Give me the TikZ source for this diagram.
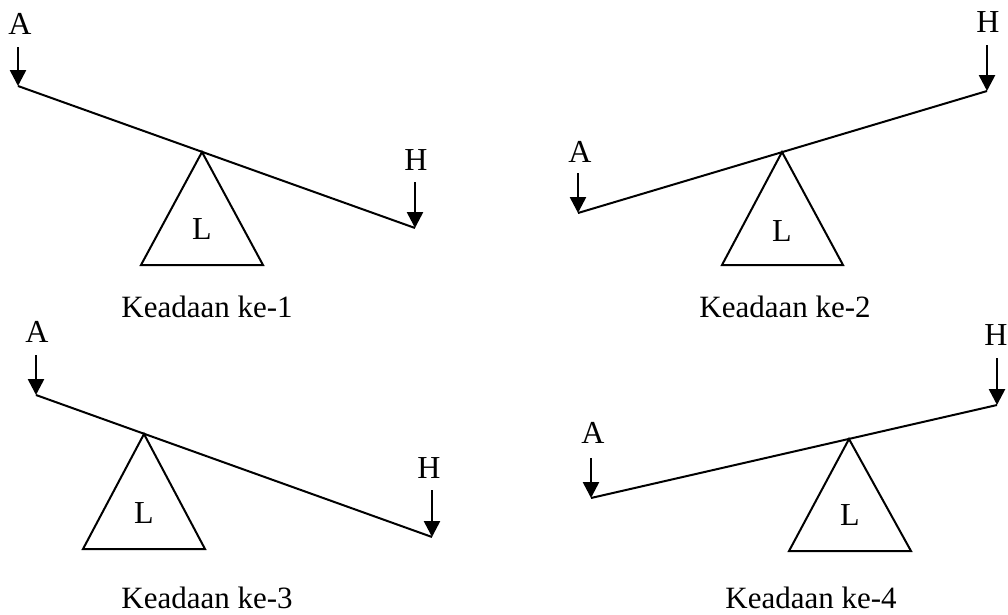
\documentclass[tikz,border=0pt]{standalone}
\usepackage{fontspec}
\setmainfont{Liberation Serif}
\usetikzlibrary{arrows.meta}
\begin{document}
\begin{tikzpicture}[x=1pt,y=-1pt,
  beam/.style={line width=2pt},
  stand/.style={line width=2pt,line join=miter},
  force/.style={line width=2.6pt,-{Triangle[width=16pt,length=16pt]}},
  lbl/.style={font=\fontsize{32}{36}\selectfont,inner sep=0pt},
  captext/.style={font=\fontsize{31}{36}\selectfont,inner sep=0pt}]
\useasboundingbox (0,0) rectangle (1008,614);
% ---------- Panel 1
\coordinate (b1l) at (18,86);
\coordinate (b1r) at (415,228);
\coordinate (t1a) at (202,152);
\coordinate (t1l) at (141,265);
\coordinate (t1r) at (263,265);
\coordinate (f1a) at (18,47);
\coordinate (f1h) at (415,182);
\draw[beam] (b1l) -- (b1r);
\draw[stand] (t1a) -- (t1l) -- (t1r) -- cycle;
\draw[force] (f1a) -- (b1l);
\draw[force] (f1h) -- (b1r);
\node[lbl] (a1) at (20,24) {A};
\node[lbl] (h1) at (416,160) {H};
\node[lbl] (l1) at (202,229) {L};
\node[captext] (k1) at (207,307) {Keadaan ke-1};
% ---------- Panel 2
\coordinate (b2l) at (578,213);
\coordinate (b2r) at (987,91);
\coordinate (t2a) at (782,152);
\coordinate (t2l) at (722,265);
\coordinate (t2r) at (843,265);
\coordinate (f2a) at (578,173);
\coordinate (f2h) at (987,45);
\draw[beam] (b2l) -- (b2r);
\draw[stand] (t2a) -- (t2l) -- (t2r) -- cycle;
\draw[force] (f2a) -- (b2l);
\draw[force] (f2h) -- (b2r);
\node[lbl] (a2) at (580,152) {A};
\node[lbl] (h2) at (988,22) {H};
\node[lbl] (l2) at (782,231) {L};
\node[captext] (k2) at (785,307) {Keadaan ke-2};
% ---------- Panel 3
\coordinate (b3l) at (36,395);
\coordinate (b3r) at (432,537);
\coordinate (t3a) at (144,434);
\coordinate (t3l) at (83,549);
\coordinate (t3r) at (205,549);
\coordinate (f3a) at (36,355);
\coordinate (f3h) at (432,490);
\draw[beam] (b3l) -- (b3r);
\draw[stand] (t3a) -- (t3l) -- (t3r) -- cycle;
\draw[force] (f3a) -- (b3l);
\draw[force] (f3h) -- (b3r);
\node[lbl] (a3) at (37,332) {A};
\node[lbl] (h3) at (429,468) {H};
\node[lbl] (l3) at (144,513) {L};
\node[captext] (k3) at (207,598) {Keadaan ke-3};
% ---------- Panel 4
\coordinate (b4l) at (591,498);
\coordinate (b4r) at (997,405);
\coordinate (t4a) at (849,439);
\coordinate (t4l) at (789,551);
\coordinate (t4r) at (911,551);
\coordinate (f4a) at (591,458);
\coordinate (f4h) at (997,358);
\draw[beam] (b4l) -- (b4r);
\draw[stand] (t4a) -- (t4l) -- (t4r) -- cycle;
\draw[force] (f4a) -- (b4l);
\draw[force] (f4h) -- (b4r);
\node[lbl] (a4) at (593,433) {A};
\node[lbl] (h4) at (996,335) {H};
\node[lbl] (l4) at (850,515) {L};
\node[captext] (k4) at (811,598) {Keadaan ke-4};
\end{tikzpicture}
\end{document}
